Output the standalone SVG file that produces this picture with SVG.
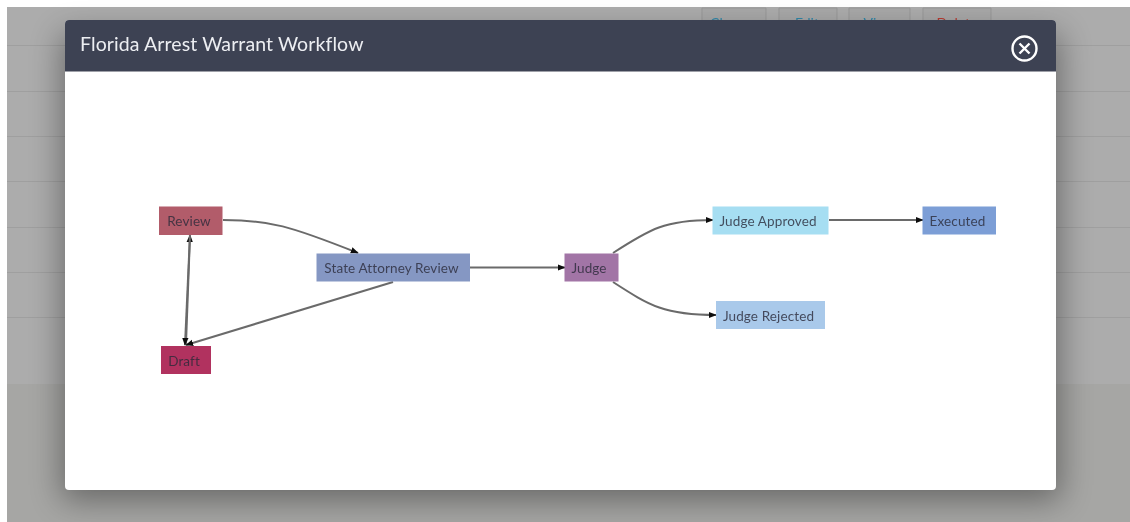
<svg xmlns="http://www.w3.org/2000/svg" width="1130" height="522" viewBox="0 0 1130 522">
<defs>
<style>
.t{font-family:Lato,"Liberation Sans",sans-serif;font-size:13.5px;letter-spacing:.12px;text-anchor:middle;dominant-baseline:central;fill:#2a2a3a;fill-opacity:.8}
.e{fill:none;stroke:#6b6b6b;stroke-width:2}
.row{stroke:#9f9f9f;stroke-width:1}
.bt{fill:#a8a8a8;stroke:#979797;stroke-width:1}
</style>
<marker id="a" viewBox="0 0 10 10" refX="9" refY="5" markerWidth="8" markerHeight="8" markerUnits="userSpaceOnUse" orient="auto"><path d="M0 1 10 5 0 9z" fill="#111"/></marker>
<filter id="sh" x="-10%" y="-15%" width="120%" height="130%"><feGaussianBlur stdDeviation="16"/></filter>
<filter id="soft" x="-5%" y="-5%" width="110%" height="110%"><feGaussianBlur stdDeviation="0.45"/></filter>
</defs>
<rect width="1130" height="522" fill="#fff"/>
<g filter="url(#soft)">
<g id="backdrop">
<rect x="7" y="7" width="1123" height="515" fill="#a6a6a4"/>
<rect x="7" y="7" width="1123" height="377" fill="#acacac"/>
<path class="row" d="M7 45.500H1130M7 91.500H1130M7 136.500H1130M7 181.500H1130M7 227.500H1130M7 272.500H1130M7 317.500H1130"/>
<path class="bt" d="M702 20V8H766V20M779 20V8H837V20M849 20V8H910V20M923 20V8H991V20"/>
<text x="728" y="27.500" font-family="Lato,sans-serif" font-size="14" text-anchor="middle" fill="#2f86a8">Clone</text>
<text x="807" y="27.500" font-family="Lato,sans-serif" font-size="14" text-anchor="middle" fill="#2f86a8">Edit</text>
<text x="879" y="27.500" font-family="Lato,sans-serif" font-size="14" text-anchor="middle" fill="#2f86a8">View</text>
<text x="957" y="27.500" font-family="Lato,sans-serif" font-size="14" text-anchor="middle" fill="#b83a30">Delete</text>
</g>
<rect x="62" y="34" width="998" height="466" fill="#000" opacity=".38" filter="url(#sh)"/>
<g id="modal">
<rect x="65" y="20" width="991" height="470" rx="4" fill="#fff"/>
<path d="M65 71.500V24a4 4 0 0 1 4-4H1052a4 4 0 0 1 4 4V71.500z" fill="#3e4253"/>
<text x="80" y="50.500" font-family="Lato,sans-serif" font-size="19.500" letter-spacing=".1" fill="#eceef2">Florida Arrest Warrant Workflow</text>
<g id="close" fill="none" stroke="#fff" stroke-width="2.400">
<circle cx="1024.500" cy="48.500" r="12"/>
<path d="M1019.500 43.500l10 10M1029.500 43.500l-10 10"/>
</g>
</g>
<g id="connectors">
<path class="e" marker-end="url(#a)" d="M223 220C270 220 290 226 358 253"/>
<path class="e" marker-end="url(#a)" d="M186 344L190 235"/>
<path class="e" marker-end="url(#a)" d="M393 282L186 345"/>
<path class="e" marker-end="url(#a)" d="M190 235L185 345"/>
<path class="e" marker-end="url(#a)" d="M470 267.500H565"/>
<path class="e" marker-end="url(#a)" d="M613 253C650 229 665 220 713 220"/>
<path class="e" marker-end="url(#a)" d="M613 282C650 306 665 315 716 315"/>
<path class="e" marker-end="url(#a)" d="M829 220H923"/>
</g>
<g id="n-review"><rect x="159" y="206.500" width="63.500" height="28.500" fill="#b25b6a"/><text class="t" x="189" y="220.500">Review</text></g>
<g id="n-state"><rect x="316.500" y="253.500" width="153.500" height="28" fill="#8597c3"/><text class="t" x="391.500" y="267.500">State Attorney Review</text></g>
<g id="n-draft"><rect x="161" y="346" width="50" height="28" fill="#b1335f"/><text class="t" x="184" y="360.500">Draft</text></g>
<g id="n-judge"><rect x="564.500" y="253.500" width="54" height="28" fill="#a274a6"/><text class="t" x="589" y="267.500">Judge</text></g>
<g id="n-approved"><rect x="712.500" y="206.500" width="116" height="28" fill="#a6def2"/><text class="t" x="768" y="220.500">Judge Approved</text></g>
<g id="n-rejected"><rect x="716" y="301" width="109" height="28" fill="#a9c9ea"/><text class="t" x="768.500" y="315.500">Judge Rejected</text></g>
<g id="n-executed"><rect x="922.500" y="206.500" width="73.500" height="28" fill="#7b9ed6"/><text class="t" x="957.500" y="220.500">Executed</text></g>
</g>
</svg>
